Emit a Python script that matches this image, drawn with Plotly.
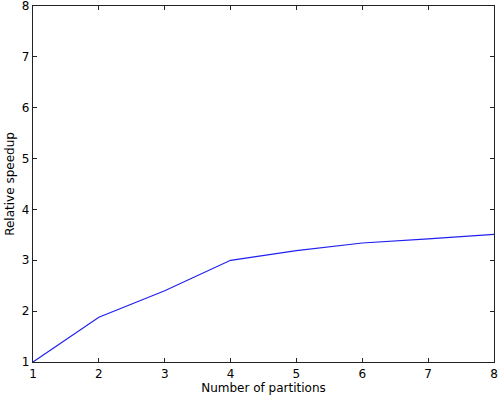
import plotly.graph_objects as go

partitions = [1, 2, 3, 4, 5, 6, 7, 8]
speedup = [1.0, 1.88, 2.40, 3.0, 3.19, 3.34, 3.42, 3.51]
ticks = [1, 2, 3, 4, 5, 6, 7, 8]

fig = go.Figure(go.Scatter(x=partitions, y=speedup, mode="lines",
                           line=dict(color="#2020f0", width=1.2)))

axis_common = dict(
    showgrid=False, zeroline=False, showline=True, linecolor="#222222", linewidth=1.2,
    mirror="ticks", ticks="inside", ticklen=4, tickcolor="#222222", tickwidth=1,
    tickvals=ticks, ticklabeloverflow="allow", automargin=False,
    tickfont=dict(family="DejaVu Sans", size=12, color="black"),
    title_font=dict(family="DejaVu Sans", size=12, color="black"),
)
fig.update_xaxes(range=[1, 8], title_text="Number of partitions", title_standoff=4, **axis_common)
fig.update_yaxes(range=[1, 8], title_text="Relative speedup", title_standoff=4, **axis_common)

fig.update_layout(
    width=504, height=397,
    margin=dict(l=33, r=10, t=6, b=35),
    plot_bgcolor="white", paper_bgcolor="white",
    showlegend=False,
)
fig.write_html("out.html")
